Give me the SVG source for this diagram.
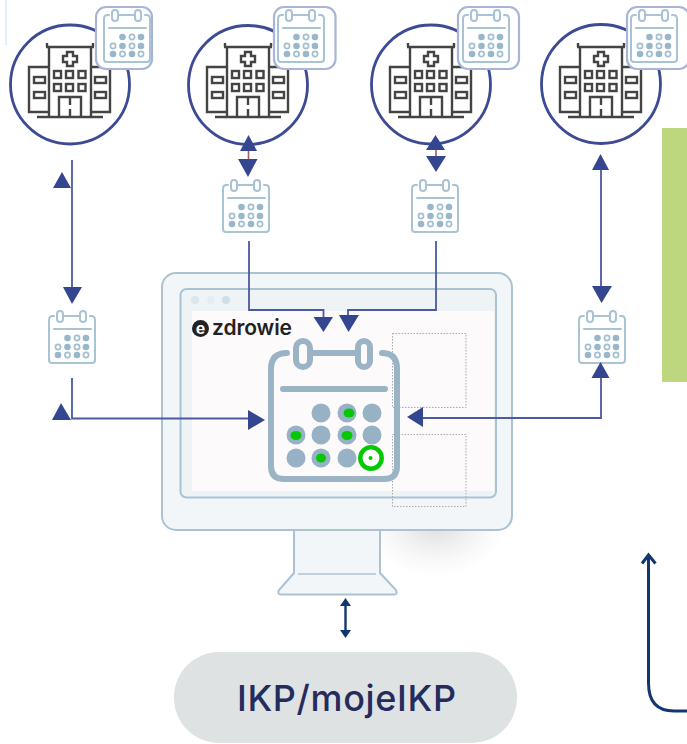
<svg xmlns="http://www.w3.org/2000/svg" width="687" height="744" viewBox="0 0 687 744">
<style>
.mon{fill:#f2f6f9;stroke:#aac3d3;stroke-width:2}
.bl{fill:none;stroke:#4a5aa0;stroke-width:1.8}
.tri{fill:#34468f}
.navy{fill:none;stroke:#12366e}
.hs{fill:none;stroke:#444;stroke-width:2.400}
.hc{fill:#fff;stroke:#3d4a94;stroke-width:2.800}
.bd{fill:#fff;stroke:#a9b4d6;stroke-width:2.200}
.cs{fill:none;stroke:#a8c3d3;stroke-width:2;stroke-linecap:round}
.cf{fill:#98b7ca}
.co{fill:#fff;stroke:#a3c0d2;stroke-width:1.700}
.big{fill:none;stroke:#9ab4c6;stroke-width:6;stroke-linecap:round}
.bdot{fill:#98b2c5}
.gr{fill:#05c805}
.dash{fill:none;stroke:#aaa;stroke-width:1;stroke-dasharray:1.500 1.500}
</style>
<defs>
<radialGradient id="sh"><stop offset="0" stop-color="#bbb" stop-opacity=".5"/><stop offset="1" stop-color="#ddd" stop-opacity="0"/></radialGradient>
<symbol id="hosp" overflow="visible">
<g class="hs">
<path d="M49 117V47H91V117M47 43V47M93 43V47M46 47H94"/>
<path d="M49 67H29V112H49M91 67H110V112H91"/>
<path d="M67 52H73V56H77V62H73V66H67V62H63V56H67Z"/>
<rect x="54" y="71" width="7" height="7"/><rect x="66" y="71" width="7" height="7"/><rect x="78.500" y="71" width="7" height="7"/>
<rect x="54" y="84" width="7" height="7"/><rect x="66" y="84" width="7" height="7"/><rect x="78.500" y="84" width="7" height="7"/>
<rect x="34" y="77" width="11" height="6"/><rect x="34" y="92" width="11" height="6"/>
<rect x="95" y="77" width="11" height="6"/><rect x="95" y="92" width="11" height="6"/>
<path d="M59 117V97H81V117M70 97V105M70 109V117"/>
<path d="M37 117H103"/>
</g>
</symbol>
<symbol id="cal" overflow="visible">
<path class="cs" d="M6 6H4.500Q1 6 1 10V50Q1 53 4 53H44Q47 53 47 50V10Q47 6 43.500 6H42M15 6H32"/>
<rect class="cs" x="9" y="1" width="6" height="11" rx="3"/>
<rect class="cs" x="32" y="1" width="6" height="11" rx="3"/>
<path class="cs" d="M6 19H43"/>
<circle class="cf" cx="19.500" cy="28" r="3.300"/><circle class="co" cx="29" cy="28" r="2.600"/><circle class="cf" cx="38" cy="28" r="3.300"/>
<circle class="co" cx="10" cy="37" r="2.600"/><circle class="cf" cx="19.500" cy="37" r="3.300"/><circle class="co" cx="29" cy="37" r="2.600"/><circle class="cf" cx="38" cy="37" r="3.300"/>
<circle class="cf" cx="10" cy="45" r="3.300"/><circle class="co" cx="19.500" cy="45" r="2.600"/><circle class="cf" cx="29" cy="45" r="3.300"/><circle class="co" cx="38" cy="45" r="2.600"/>
</symbol>
</defs>

<rect x="5" y="0" width="2" height="45" fill="#e3f0f7"/>
<rect id="green-panel" x="662" y="128" width="25" height="254" fill="#bdd77e"/>

<g id="monitor">
<ellipse cx="436" cy="525" rx="72" ry="52" fill="url(#sh)"/>
<path class="mon" d="M294 529V573L279 590Q277 594.500 281 594.500H394Q398 594.500 396 590L380 573V529Z"/>
<path d="M298 574H376" fill="none" stroke="#aac3d3" stroke-width="1.500"/>
<rect class="mon" x="162" y="273" width="350" height="257" rx="14"/>
<rect x="180" y="289" width="316" height="209" rx="6" fill="#eef3f6"/>
<rect x="192" y="311" width="302" height="180" fill="#fdfafb"/>
<rect x="180.500" y="289" width="315.500" height="208.500" rx="6" fill="none" stroke="#aac3d3" stroke-width="2"/>
<circle cx="195" cy="300" r="4" fill="#dbe6ed"/><circle cx="211" cy="300" r="4" fill="#e6edf1"/><circle cx="226" cy="300" r="4" fill="#cfdfe8"/>
<rect class="dash" x="392.500" y="333.500" width="73.500" height="74"/>
<rect class="dash" x="392.500" y="434.500" width="73.500" height="72"/>
</g>

<g id="logo">
<circle cx="200.500" cy="328.500" r="8.500" fill="#222"/>
<text x="200.500" y="334" font-family="Liberation Sans, sans-serif" font-size="17" font-weight="700" fill="#fff" text-anchor="middle">e</text>
<text x="212" y="335" font-family="Inter, sans-serif" font-size="21" font-weight="600" fill="#222" textLength="80">zdrowie</text>
</g>

<g id="big-calendar">
<path class="big" d="M287 353Q271 353 271 369V466Q271 479 284 479H384Q397 479 397 466V369Q397 353 382 353M313 353H355M283 389H385"/>
<rect class="big" x="296" y="341" width="14" height="26" rx="7"/>
<rect class="big" x="358" y="341" width="12" height="26" rx="6"/>
<circle class="bdot" cx="321" cy="413" r="9.500"/><circle class="bdot" cx="347" cy="413" r="9.500"/><circle class="bdot" cx="372" cy="413" r="9.500"/>
<circle class="bdot" cx="296" cy="435" r="9.500"/><circle class="bdot" cx="321" cy="435" r="9.500"/><circle class="bdot" cx="347" cy="435" r="9.500"/><circle class="bdot" cx="372" cy="435" r="9.500"/>
<circle class="bdot" cx="296" cy="458" r="9.500"/><circle class="bdot" cx="321" cy="458" r="9.500"/><circle class="bdot" cx="347" cy="458" r="9.500"/>
<ellipse class="gr" cx="349" cy="413" rx="5.500" ry="4.500"/><ellipse class="gr" cx="296" cy="435.500" rx="5.500" ry="4.500"/><ellipse class="gr" cx="347" cy="435.500" rx="5.500" ry="4.500"/><ellipse class="gr" cx="321" cy="458" rx="5" ry="4.500"/>
<circle cx="371" cy="458" r="10.700" fill="#fff" stroke="#05c805" stroke-width="4.500"/><circle class="gr" cx="370.500" cy="458" r="2"/>
</g>

<g id="hospital-1"><circle class="hc" cx="70" cy="84.500" r="59.500"/><use href="#hosp"/></g>
<g id="badge-1"><rect class="bd" x="96" y="7" width="56" height="62" rx="10"/><use href="#cal" x="103" y="9"/></g>
<g id="hospital-2"><circle class="hc" cx="248" cy="85" r="59.500"/><use href="#hosp" x="178"/></g>
<g id="badge-2"><rect class="bd" x="274" y="7" width="61.500" height="62" rx="10"/><use href="#cal" x="277" y="9"/></g>
<g id="hospital-3"><circle class="hc" cx="431" cy="84.500" r="59.500"/><use href="#hosp" x="361"/></g>
<g id="badge-3"><rect class="bd" x="458" y="7" width="61" height="62" rx="10"/><use href="#cal" x="462" y="9"/></g>
<g id="hospital-4"><circle class="hc" cx="601" cy="84" r="59.500"/><use href="#hosp" x="531"/></g>
<g id="badge-4"><rect class="bd" x="627" y="7" width="62" height="62" rx="10"/><use href="#cal" x="630" y="9"/></g>

<g id="cal-a"><use href="#cal" x="48" y="310"/></g>
<g id="cal-b"><use href="#cal" x="222" y="179"/></g>
<g id="cal-c"><use href="#cal" x="411" y="179"/></g>
<g id="cal-d"><use href="#cal" x="578" y="310"/></g>

<g id="connectors">
<path class="bl" d="M72 160V292M72 378V418.500H252"/>
<path class="tri" d="M62 172L71 188H53Z"/>
<path class="tri" d="M63 287H82L72 304Z"/>
<path class="tri" d="M61 403L71 420H52Z"/>
<path class="tri" d="M248 410L265 420L248 430Z"/>
<path d="M248.500 150V160M436 150V157" stroke="#a65a60" stroke-width="1.600" fill="none"/>
<path class="tri" d="M248.500 135L257 151H240Z"/><path class="tri" d="M238 159H257.500L248 177Z"/>
<path class="bl" d="M249 241V310H323.500V318M436 241V310H348V318"/>
<path class="tri" d="M313.500 317H333L323.500 332Z"/><path class="tri" d="M339 315H359L348.500 332Z"/>
<path class="tri" d="M435.500 135L445 150H426Z"/><path class="tri" d="M426 156H446L436 172Z"/>
<path class="bl" d="M601 165V292M601 370V418H418"/>
<path class="tri" d="M600.500 154L609 170H592Z"/><path class="tri" d="M592 286H612L601.500 303Z"/>
<path class="tri" d="M600.500 362L609.500 378H591.500Z"/>
<path class="tri" d="M407 417L423 407V427Z"/>
<path class="navy" stroke-width="2.400" d="M345.500 602V634"/>
<path d="M345.500 598L351 606H340ZM345.500 638L351 630H340Z" fill="#12366e"/>
<path class="navy" stroke-width="3" d="M687 711H674Q648.500 711 648.500 683V555M642 563.500L648.500 555L655.500 563.500"/>
</g>

<g id="ikp">
<rect x="174" y="652" width="343" height="91" rx="45" fill="#dfe2e3"/>
<text x="237" y="711" font-family="Inter, sans-serif" font-size="36" font-weight="500" fill="#252c5c" textLength="219">IKP/mojeIKP</text>
</g>
</svg>
